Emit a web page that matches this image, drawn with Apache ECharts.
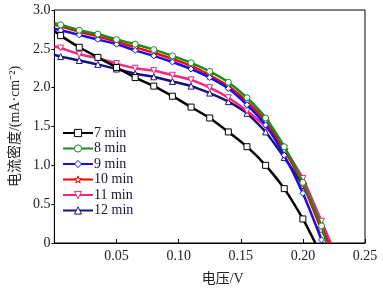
<!DOCTYPE html>
<html>
<head>
<meta charset="utf-8">
<script src="https://cdn.jsdelivr.net/npm/echarts@6/dist/echarts.min.js"></script>
<style>
  html, body { margin: 0; padding: 0; background: #fff; }
  #main { width: 383px; height: 291px; }
</style>
</head>
<body>
<div id="main"></div>
<script>
// 基于准备好的dom，初始化echarts实例
var myChart = echarts.init(document.getElementById('main'));

// 图例名称
var names = ['7 min', '8 min', '9 min', '10 min', '11 min', '12 min'];
// 带标记点的电压 (V)
var voltage = [0.005, 0.02, 0.035, 0.05, 0.065, 0.08, 0.095, 0.11, 0.125, 0.14, 0.155, 0.17, 0.185, 0.20, 0.215];
// 电流密度 (mA/cm2)
var j7  = [2.67, 2.52, 2.39, 2.26, 2.13, 2.02, 1.89, 1.75, 1.61, 1.43, 1.24, 1.00, 0.70, 0.31];
var j8  = [2.81, 2.74, 2.69, 2.62, 2.56, 2.49, 2.41, 2.32, 2.21, 2.07, 1.87, 1.61, 1.24, 0.78, 0.22];
var j9  = [2.74, 2.68, 2.62, 2.56, 2.48, 2.41, 2.33, 2.24, 2.13, 1.99, 1.78, 1.52, 1.13, 0.64, 0.04];
var j10 = [2.79, 2.72, 2.66, 2.59, 2.52, 2.45, 2.37, 2.28, 2.16, 2.02, 1.82, 1.57, 1.20, 0.76, 0.17];
var j11 = [2.51, 2.43, 2.38, 2.31, 2.25, 2.22, 2.16, 2.10, 2.00, 1.87, 1.70, 1.50, 1.22, 0.83, 0.28];
var j12 = [2.40, 2.35, 2.30, 2.24, 2.18, 2.14, 2.08, 2.02, 1.93, 1.82, 1.67, 1.43, 1.10, 0.74, 0.24];
// V=0 时的电流密度, 电流为0时的电压
var jStart = [2.73, 2.83, 2.76, 2.81, 2.53, 2.42];
var vEnd = [0.21, 0.219, 0.2155, 0.221, 0.2225, 0.222];
// 刻度
var xTicks = [0, 0.05, 0.10, 0.15, 0.20, 0.25];
var yTicks = [0, 0.5, 1.0, 1.5, 2.0, 2.5, 3.0];

var colors = ['#000000', '#1a8c1a', '#1010f0', '#ff0000', '#f5267e', '#141480'];
var starPath = 'path://M50,0 L61,35 L98,35 L68,57 L79,91 L50,70 L21,91 L32,57 L2,35 L39,35 Z';
var symbols = ['rect', 'circle', 'diamond', starPath, 'triangle', 'triangle'];
var rotates = [0, 0, 0, 0, 180, 0];
var allJ = [j7, j8, j9, j10, j11, j12];

var fontSerif = '"Liberation Serif", "Times New Roman", "Noto Sans CJK SC", serif';

var series = [];
var legendData = [];
for (var i = 0; i < names.length; i++) {
    var d = [{ value: [0, jStart[i]], symbol: 'none' }];
    for (var k = 0; k < allJ[i].length; k++) {
        d.push([voltage[k], allJ[i][k]]);
    }
    d.push({ value: [vEnd[i], 0], symbol: 'none' });
    series.push({
        name: names[i],
        type: 'line',
        data: d,
        smooth: 0.2,
        symbol: symbols[i],
        symbolRotate: rotates[i],
        symbolSize: i == 3 ? 8 : 6,
        showAllSymbol: true,
        lineStyle: { color: colors[i], width: 2.5 },
        itemStyle: { color: '#ffffff', borderColor: colors[i], borderWidth: 1 },
        z: 2 + (6 - i)
    });
    legendData.push({
        name: names[i],
        itemStyle: { color: '#ffffff', borderColor: colors[i], borderWidth: 1 }
    });
}

// 指定图表的配置项和数据
myChart.setOption({
    backgroundColor: '#fff',
    animation: false,
    grid: {
        left: 46, right: 18, top: 10, bottom: 46,
        show: true, borderColor: '#000', borderWidth: 1
    },
    legend: {
        data: legendData,
        orient: 'vertical',
        left: 62,
        top: 126,
        padding: 0,
        itemWidth: 30,
        itemHeight: 9,
        itemGap: 1.5,
        textStyle: { color: '#151530', fontSize: 14, fontFamily: fontSerif, padding: [0, 0, 0, -4] }
    },
    xAxis: {
        type: 'value',
        min: xTicks[0],
        max: xTicks[xTicks.length - 1],
        interval: 0.05,
        name: '电压/V',
        nameLocation: 'middle',
        nameGap: 29,
        nameTextStyle: { color: '#222', fontSize: 14, fontFamily: fontSerif, padding: [0, 0, 0, 26] },
        axisLine: { lineStyle: { color: '#000', width: 1 } },
        axisTick: { inside: true, length: 4, lineStyle: { color: '#000' } },
        splitLine: { show: false },
        axisLabel: {
            color: '#222', fontSize: 14, fontFamily: fontSerif, margin: 6,
            formatter: function (v) { return v === 0 ? '' : v.toFixed(2); }
        }
    },
    yAxis: {
        type: 'value',
        min: yTicks[0],
        max: yTicks[yTicks.length - 1],
        interval: 0.5,
        name: '电流密度/(mA·cm⁻²)',
        nameLocation: 'middle',
        nameGap: 32,
        nameTextStyle: { color: '#222', fontSize: 14, fontFamily: fontSerif },
        axisLine: { lineStyle: { color: '#000', width: 1 } },
        axisTick: { inside: false, length: 3, lineStyle: { color: '#000' } },
        splitLine: { show: false },
        axisLabel: {
            color: '#222', fontSize: 14, fontFamily: fontSerif, margin: 4,
            formatter: function (v) { return v === 0 ? '0' : v.toFixed(1); }
        }
    },
    series: series
});
</script>
</body>
</html>
